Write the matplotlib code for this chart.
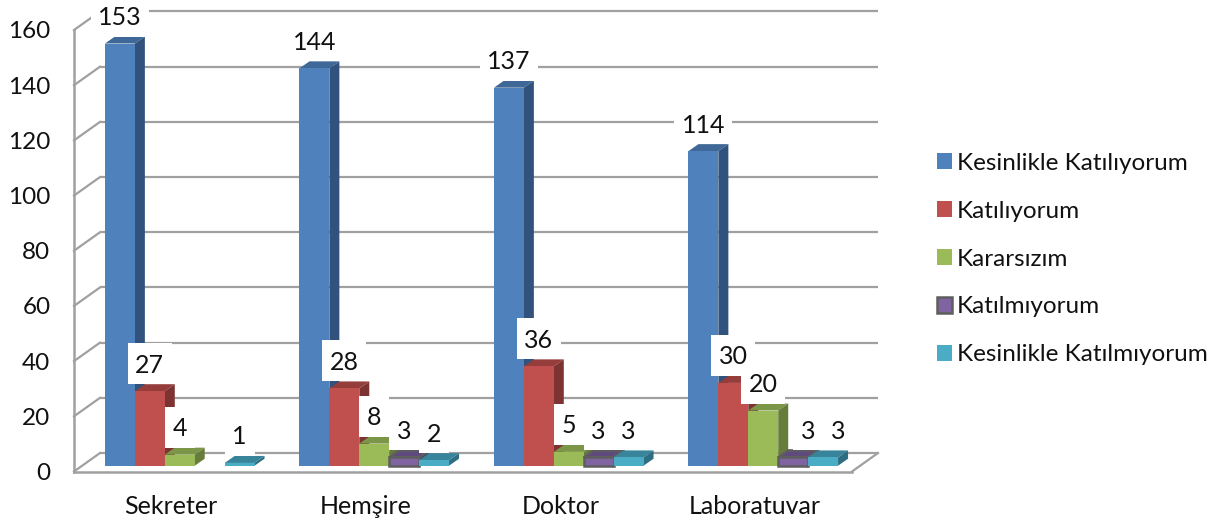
# -*- coding: utf-8 -*-
import matplotlib as mpl
mpl.use('Agg')
import matplotlib.pyplot as plt
from matplotlib.patches import Patch, Polygon, Rectangle

plt.rcParams['font.family'] = ['Lato', 'DejaVu Sans']

categories = ['Sekreter', 'Hemşire', 'Doktor', 'Laboratuvar']
series_names = ['Kesinlikle Katılıyorum', 'Katılıyorum', 'Kararsızım',
                'Katılmıyorum', 'Kesinlikle Katılmıyorum']
kesinlikle_katiliyorum = [153, 144, 137, 114]
katiliyorum = [27, 28, 36, 30]
kararsizim = [4, 8, 5, 20]
katilmiyorum = [0, 3, 3, 3]
kesinlikle_katilmiyorum = [1, 2, 3, 3]
series_values = [kesinlikle_katiliyorum, katiliyorum, kararsizim,
                 katilmiyorum, kesinlikle_katilmiyorum]
y_ticks = [0, 20, 40, 60, 80, 100, 120, 140, 160]

front_colors = ['#4F81BD', '#C0504D', '#9BBB59', '#8064A2', '#4BACC6']
top_colors = ['#3F6797', '#953D3A', '#7C9647', '#5F4A7D', '#37849B']
side_colors = ['#30527C', '#7C3331', '#667C3A', '#4F3D69', '#2D6E82']
edge_colors = [None, None, None, '#5E5E5E', None]
grid_color = '#A0A0A0'

W, H = 1222, 523
fig = plt.figure(figsize=(W / 100, H / 100), dpi=100)
# front plane of the 3d box, in pixels
left, right, bottom, top = 74, 852, 471.5, 30
ax = fig.add_axes([left / W, 1 - bottom / H, (right - left) / W, (bottom - top) / H])
ax.set_xlim(0, len(categories))
ax.set_ylim(0, 160)
ax.patch.set_visible(False)

px_x = len(categories) / (right - left)   # data per pixel
px_y = 160 / (bottom - top)

# box: back wall lines and diagonals
wall_dx, wall_dy = 26 * px_x, 18.5 * px_y
for t in y_ticks:
    ax.plot([wall_dx, len(categories) + wall_dx], [t + wall_dy] * 2,
            color=grid_color, lw=1.6, zorder=1, clip_on=False, solid_capstyle='butt')
    ax.plot([0, wall_dx], [t, t + wall_dy], color=grid_color, lw=1.6, zorder=1, clip_on=False)
ax.plot([len(categories), len(categories) + wall_dx], [0, wall_dy],
        color=grid_color, lw=1.6, zorder=1, clip_on=False)

for s in ['top', 'right']:
    ax.spines[s].set_visible(False)
for s in ['left', 'bottom']:
    ax.spines[s].set_color(grid_color)
    ax.spines[s].set_linewidth(1.8)

ax.set_yticks(y_ticks)
ax.set_xticks([i + 0.5 for i in range(len(categories))])
ax.set_xticklabels(categories)
ax.tick_params(axis='both', length=0, labelsize=18, labelcolor='#111111')
ax.tick_params(axis='y', labelsize=17.5, pad=17)
ax.tick_params(axis='x', pad=17)

# bars
bar_w = 1 / 6.5
bar_dx, bar_dy = 10 * px_x, 7 * px_y
base = 5.8 * px_y
start = 0.75 * bar_w + 8.5 * px_x
z = 3
for i in range(len(categories)):
    for j, vals in enumerate(series_values):
        v = vals[i]
        if v == 0:
            continue
        x0 = i + start + j * bar_w
        x1 = x0 + bar_w
        y0 = base
        y1 = base + v
        edge = edge_colors[j]
        lw = 1.8 if edge else 0
        ax.add_patch(Polygon([(x0, y1), (x1, y1), (x1 + bar_dx, y1 + bar_dy), (x0 + bar_dx, y1 + bar_dy)],
                             fc=top_colors[j], ec=edge or 'none', lw=lw, zorder=z, clip_on=False))
        ax.add_patch(Polygon([(x1, y0), (x1 + bar_dx, y0 + bar_dy), (x1 + bar_dx, y1 + bar_dy), (x1, y1)],
                             fc=side_colors[j], ec=edge or 'none', lw=lw, zorder=z, clip_on=False))
        ax.bar(x0, v, bar_w, bottom=base, align='edge', color=front_colors[j],
               edgecolor=edge or 'none', linewidth=lw, zorder=z, clip_on=False)
        z += 1

# data labels with white boxes, the last two Laboratuvar ones sit further right
label_shift = {(3, 3): 15, (4, 3): 15}
for j, vals in enumerate(series_values):
    for i, v in enumerate(vals):
        if v == 0:
            continue
        x = i + start + (j + 0.5) * bar_w + label_shift.get((j, i), 0) * px_x
        txt = str(v)
        box_w = (16 + 14 * len(txt)) * px_x
        ax.add_patch(Rectangle((x - box_w / 2, base + v + bar_dy), box_w, 41 * px_y,
                               fc='white', ec='none', zorder=100, clip_on=False))
        ax.annotate(txt, (x, base + v), xytext=(0, 26 * 0.72), textcoords='offset points',
                    ha='center', va='center', fontsize=18, color='#111111', zorder=101,
                    annotation_clip=False)

handles = [Patch(fc=c, ec=e or c, lw=1.8 if e else 0) for c, e in zip(front_colors, edge_colors)]
fig.legend(handles, series_names, loc='center left', bbox_to_anchor=(937 / W, 1 - 259 / H),
           frameon=False, fontsize=17.5, labelcolor='#111111', handlelength=0.62, handleheight=0.62,
           handletextpad=0.2, labelspacing=1.11, borderpad=0, borderaxespad=0)

fig.savefig('out.png', dpi=100)
